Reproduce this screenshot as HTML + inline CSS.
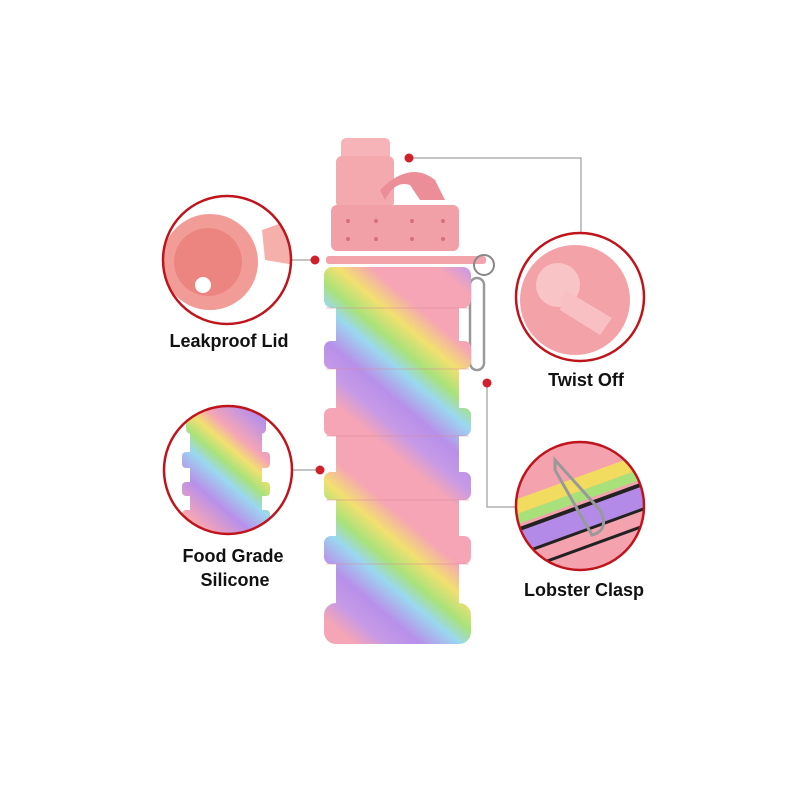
<!DOCTYPE html>
<html><head><meta charset="utf-8"><style>
html,body{margin:0;padding:0;background:#fff;width:800px;height:800px;overflow:hidden}
svg{display:block}
text{font-family:"Liberation Sans",sans-serif;font-weight:bold;font-size:18px;fill:#111}
</style></head><body>
<svg width="800" height="800" viewBox="0 0 800 800">
<defs>
<linearGradient id="sw" gradientUnits="userSpaceOnUse" x1="440" y1="270" x2="330" y2="400" spreadMethod="repeat">
<stop offset="0" stop-color="#f5a5b5"/><stop offset="0.25" stop-color="#f5a5b5"/>
<stop offset="0.38" stop-color="#f2e070"/><stop offset="0.5" stop-color="#a9e27a"/>
<stop offset="0.6" stop-color="#9ad8f0"/><stop offset="0.75" stop-color="#b890ea"/>
<stop offset="0.88" stop-color="#c79ae6"/><stop offset="1" stop-color="#f5a5b5"/>
</linearGradient>
<linearGradient id="sw2" gradientUnits="userSpaceOnUse" x1="250" y1="410" x2="190" y2="480" spreadMethod="repeat">
<stop offset="0" stop-color="#b890ea"/><stop offset="0.3" stop-color="#f5a5b5"/>
<stop offset="0.45" stop-color="#f2e070"/><stop offset="0.6" stop-color="#a9e27a"/>
<stop offset="0.75" stop-color="#9ad8f0"/><stop offset="1" stop-color="#b890ea"/>
</linearGradient>
<clipPath id="c1"><circle cx="227" cy="260" r="64"/></clipPath>
<clipPath id="c2"><circle cx="580" cy="297" r="64"/></clipPath>
<clipPath id="c3"><circle cx="228" cy="470" r="64"/></clipPath>
<clipPath id="c4"><circle cx="580" cy="506" r="64"/></clipPath>
</defs>

<g stroke="#888" stroke-width="1" fill="none">
<polyline points="409,158 581,158 581,233"/>
<line x1="287" y1="260" x2="315" y2="260"/>
<polyline points="487,383 487,507 515,507"/>
<line x1="293" y1="470" x2="320" y2="470"/>
</g>

<rect x="341" y="138" width="49" height="22" rx="5" fill="#f6b4b8"/>
<rect x="336" y="156" width="58" height="52" rx="6" fill="#f3a9ae"/>
<path d="M380 190 Q410 160 435 180 L445 200 L420 200 L410 185 Q395 180 385 200Z" fill="#ec8e98"/>
<rect x="331" y="205" width="128" height="46" rx="6" fill="#f0a0a6"/>
<g fill="#d66f7b">
<circle cx="348" cy="221" r="2"/><circle cx="376" cy="221" r="2"/><circle cx="412" cy="221" r="2"/><circle cx="443" cy="221" r="2"/>
<circle cx="348" cy="239" r="2"/><circle cx="376" cy="239" r="2"/><circle cx="412" cy="239" r="2"/><circle cx="443" cy="239" r="2"/>
</g>
<rect x="326" y="256" width="160" height="8" rx="3" fill="#f2a4aa"/>
<circle cx="484" cy="265" r="10" fill="none" stroke="#888" stroke-width="2"/>
<rect x="470" y="278" width="14" height="92" rx="7" fill="none" stroke="#999" stroke-width="2.5"/>

<g fill="url(#sw)">
<rect x="336" y="300" width="123" height="310"/>
<rect x="324" y="267" width="147" height="41" rx="8"/>
<rect x="324" y="341" width="147" height="28" rx="7"/>
<rect x="324" y="408" width="147" height="28" rx="7"/>
<rect x="324" y="472" width="147" height="28" rx="7"/>
<rect x="324" y="536" width="147" height="28" rx="7"/>
<rect x="324" y="603" width="147" height="41" rx="12"/>
</g>
<g stroke="#d88a9a" stroke-width="1" opacity="0.5">
<line x1="326" y1="308" x2="469" y2="308"/><line x1="326" y1="369" x2="469" y2="369"/>
<line x1="326" y1="436" x2="469" y2="436"/><line x1="326" y1="500" x2="469" y2="500"/>
<line x1="326" y1="564" x2="469" y2="564"/>
</g>

<g clip-path="url(#c1)">
<rect x="160" y="190" width="140" height="140" fill="#fff"/>
<circle cx="210" cy="262" r="48" fill="#f29c98"/>
<circle cx="208" cy="262" r="34" fill="#ec8580"/>
<circle cx="203" cy="285" r="8" fill="#fff"/>
<path d="M262 230 L290 220 L295 265 L265 260Z" fill="#f6b0ab"/>
</g>
<circle cx="227" cy="260" r="64" fill="none" stroke="#c0141c" stroke-width="2.5"/>

<g clip-path="url(#c2)">
<rect x="510" y="230" width="140" height="140" fill="#fff"/>
<circle cx="575" cy="300" r="55" fill="#f3a3a8"/>
<circle cx="558" cy="285" r="22" fill="#f8c4c6"/>
<path d="M565 290 L612 318 L600 335 L560 310Z" fill="#f8c0c2"/>
</g>
<circle cx="580" cy="297" r="64" fill="none" stroke="#c0141c" stroke-width="2.5"/>

<g clip-path="url(#c3)">
<rect x="160" y="400" width="140" height="140" fill="#fff"/>
<g fill="url(#sw2)">
<rect x="186" y="406" width="80" height="28" rx="5"/>
<rect x="190" y="430" width="72" height="110"/>
<rect x="182" y="452" width="88" height="16" rx="4"/>
<rect x="182" y="482" width="88" height="14" rx="4"/>
<rect x="182" y="510" width="88" height="14" rx="4"/>
</g>
</g>
<circle cx="228" cy="470" r="64" fill="none" stroke="#c0141c" stroke-width="2.5"/>

<g clip-path="url(#c4)">
<rect x="510" y="440" width="140" height="140" fill="#f4a2ae"/>
<g transform="rotate(-20 580 506)">
<rect x="500" y="478" width="170" height="14" fill="#f2dc60"/>
<rect x="500" y="492" width="170" height="10" fill="#a8e07a"/>
<rect x="500" y="505" width="170" height="4" fill="#222"/>
<rect x="500" y="509" width="170" height="20" fill="#b48ae8"/>
<rect x="500" y="529" width="170" height="3" fill="#222"/>
<rect x="500" y="545" width="170" height="3" fill="#222"/>
</g>
<path d="M555 460 L600 510 Q610 530 592 535 L555 470Z" fill="none" stroke="#999" stroke-width="3"/>
</g>
<circle cx="580" cy="506" r="64" fill="none" stroke="#c0141c" stroke-width="2.5"/>

<g fill="#d0202c">
<circle cx="409" cy="158" r="4.5"/><circle cx="315" cy="260" r="4.5"/>
<circle cx="487" cy="383" r="4.5"/><circle cx="320" cy="470" r="4.5"/>
</g>

<text x="229" y="347" text-anchor="middle">Leakproof Lid</text>
<text x="586" y="386" text-anchor="middle">Twist Off</text>
<text x="233" y="562" text-anchor="middle">Food Grade</text>
<text x="235" y="586" text-anchor="middle">Silicone</text>
<text x="584" y="596" text-anchor="middle">Lobster Clasp</text>
</svg>
</body></html>
